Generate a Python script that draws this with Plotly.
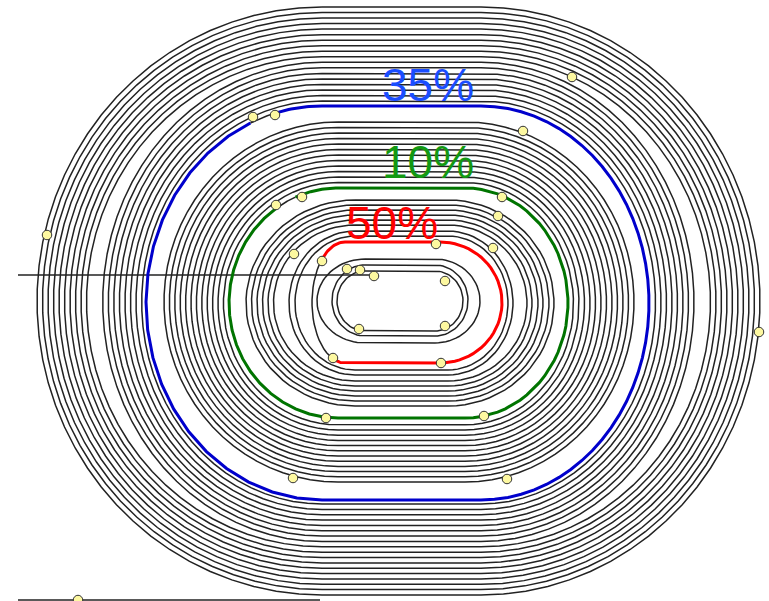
import numpy as np
import plotly.graph_objects as go

# ---- lane data (pixel-space values) ----
# outer group of lanes (straight segment from 322 to 481)
outer_left = [37, 42.5, 48, 53.5, 59, 64.5, 70, 75.5, 81, 86.5,
              102.7, 108.3, 113.8, 119.4, 125, 130.5, 136, 141.7]
outer_right = [760, 754.5, 749, 743.5, 738, 732.5, 727, 721.5, 716, 710.5,
               694, 688.5, 683, 677.5, 672, 666.5, 661, 655.5]
outer_top = [7, 12.5, 18.1, 23.6, 29.1, 34.7, 40.2, 45.7, 51.2, 56.8,
             62.3, 67.8, 73.4, 78.9, 84.4, 89.9, 95.5, 101]
outer_bottom = [595, 589.6, 584.3, 578.9, 573.6, 568.2, 562.9, 557.5, 552.2,
                546.8, 541.5, 536.1, 530.8, 525.4, 520.1, 514.7, 509.4, 504]
outer_straight = [322, 481]

# middle group (straight from 338 to 465)
mid_left = [164, 169.4, 174.8, 180.2, 185.6, 191, 196.4, 201.8, 207.2, 212.6, 218, 223.4]
mid_right = [634, 628.5, 623, 617.5, 612, 606.5, 601, 595.5, 590, 584.5, 579, 573.5]
mid_top = [122, 127.5, 133, 138.5, 144, 149.5, 155, 160.5, 166, 171.5, 177, 182.5]
mid_bottom = [482, 476.8, 471.6, 466.4, 461.2, 456, 450.8, 445.6, 440.4, 435.2, 430, 424.8]
mid_straight = [338, 465]

# inner group (inside the green lane)
inner_left = [246, 251.5, 257, 262.5, 268, 273.5, 289, 295]
inner_right = [554, 549, 543, 538, 532, 527, 513, 508]
inner_top = [200, 205, 210, 215, 220, 225, 231, 236]
inner_bottom = [406, 401, 396, 391, 386, 381, 375, 370]
inner_straight = [355, 448]

# core lanes (inside the red lane)
core_left = [317, 332, 337]
core_right = [480, 468, 463]
core_top = [259, 265, 271]
core_bottom = [343, 336, 331]
core_straight = [365, 435]

# highlighted lanes: label, left, right, top, bottom, straight, colored span (deg)
hl_labels = ["35%", "10%", "50%"]
hl_left = [146, 229, 312]
hl_right = [649, 568, 502]
hl_top = [106, 188, 242]
hl_bottom = [500, 418, 363]
hl_straight = [[322, 481], [338, 465], [345, 440]]
hl_start_deg = [254, 247, 224]
hl_end_deg = [246, 235, 112]
hl_line_colors = ["#0000cc", "#007400", "#ff0000"]
hl_text_colors = ["#1a4dff", "#139913", "#ff0000"]
hl_text_x = [428, 428, 392]
hl_text_y = [85, 162, 223]

# runner markers
dot_x = [572, 253, 275, 523, 47, 302, 276, 502, 498, 493, 436, 294, 322, 347, 360,
         374, 445, 359, 445, 333, 441, 759, 326, 484, 293, 507, 78]
dot_y = [77, 117, 115, 131, 235, 197, 205, 197, 216, 248, 244, 254, 261, 269, 270,
         276, 281, 329, 326, 358, 363, 332, 418, 416, 478, 479, 600]

# guide lines
guide_y = [275, 600]
guide_x0 = [18, 18]
guide_x1 = [373, 320]

LANE = "#222222"


def arc_pts(cx, cy, rx, ry, a0, a1, n=40):
    th = np.radians(np.linspace(a0, a1, n))
    return list(cx + rx * np.cos(th)), list(cy + ry * np.sin(th))


def lane_path(l, r, t, b, s0, s1):
    cy = (t + b) / 2.0
    ry = (b - t) / 2.0
    xs, ys = [s0], [t]
    x, y = arc_pts(s1, cy, r - s1, ry, -90, 90)
    xs += x; ys += y
    x, y = arc_pts(s0, cy, s0 - l, ry, 90, 270)
    xs += x; ys += y
    return xs, ys


def partial(l, r, t, b, s0, s1, start, end):
    """colored part: left arc from start->270, top, right arc, bottom, left arc 90->end"""
    cy = (t + b) / 2.0
    ry = (b - t) / 2.0
    xs, ys = arc_pts(s0, cy, s0 - l, ry, start, 270, 20)
    x, y = arc_pts(s1, cy, r - s1, ry, -90, 90)
    xs += x; ys += y
    x, y = arc_pts(s0, cy, s0 - l, ry, 90, end, 20)
    xs += x; ys += y
    bx, by = arc_pts(s0, cy, s0 - l, ry, end, start, 20)
    return (xs, ys), (bx, by)


fig = go.Figure()

groups = [
    (outer_left, outer_right, outer_top, outer_bottom, outer_straight),
    (mid_left, mid_right, mid_top, mid_bottom, mid_straight),
    (inner_left, inner_right, inner_top, inner_bottom, inner_straight),
    (core_left, core_right, core_top, core_bottom, core_straight),
]
for L, R, T, B, S in groups:
    for l, r, t, b in zip(L, R, T, B):
        xs, ys = lane_path(l, r, t, b, S[0], S[1])
        fig.add_trace(go.Scatter(x=xs, y=ys, mode="lines",
                                 line=dict(color=LANE, width=1.5),
                                 hoverinfo="skip", showlegend=False))

for y, x0, x1 in zip(guide_y, guide_x0, guide_x1):
    fig.add_trace(go.Scatter(x=[x0, x1], y=[y, y], mode="lines",
                             line=dict(color=LANE, width=1.3),
                             hoverinfo="skip", showlegend=False))

for i in range(len(hl_labels)):
    (cx_, cy_), (bx, by) = partial(hl_left[i], hl_right[i], hl_top[i], hl_bottom[i],
                                   hl_straight[i][0], hl_straight[i][1],
                                   hl_start_deg[i], hl_end_deg[i])
    fig.add_trace(go.Scatter(x=bx, y=by, mode="lines",
                             line=dict(color=LANE, width=1.5),
                             hoverinfo="skip", showlegend=False))
    fig.add_trace(go.Scatter(x=cx_, y=cy_, mode="lines",
                             line=dict(color=hl_line_colors[i], width=3),
                             hoverinfo="skip", showlegend=False))
    fig.add_annotation(x=hl_text_x[i], y=hl_text_y[i], text=hl_labels[i],
                       showarrow=False, xanchor="center", yanchor="middle",
                       font=dict(family="Liberation Sans, Arial", size=46,
                                 color=hl_text_colors[i]))

fig.add_trace(go.Scatter(x=dot_x, y=dot_y, mode="markers",
                         marker=dict(size=9.5, color="#fdf8a0",
                                     line=dict(color="#333333", width=1)),
                         hoverinfo="skip", showlegend=False))

fig.update_layout(
    width=769, height=601,
    margin=dict(l=0, r=0, t=0, b=0),
    paper_bgcolor="white", plot_bgcolor="white",
    xaxis=dict(range=[0, 769], visible=False, fixedrange=True),
    yaxis=dict(range=[601, 0], visible=False, fixedrange=True),
)

fig.write_html("out.html")
